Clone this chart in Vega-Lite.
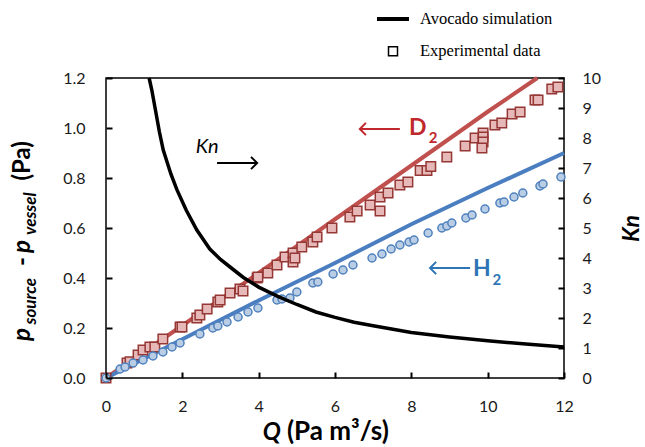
{
  "$schema": "https://vega.github.io/schema/vega-lite/v6.json",
  "width": 458,
  "height": 300,
  "autosize": {"type": "none"},
  "padding": {"left": 106, "top": 78, "right": 81, "bottom": 69},
  "datasets": {
    "sim": [
      {"s": "D2", "q": 0, "p": 0}, {"s": "D2", "q": 2, "p": 0.21}, {"s": "D2", "q": 4, "p": 0.42}, {"s": "D2", "q": 6, "p": 0.635}, {"s": "D2", "q": 8, "p": 0.85}, {"s": "D2", "q": 10, "p": 1.065}, {"s": "D2", "q": 11.3, "p": 1.2},
      {"s": "H2", "q": 0, "p": 0}, {"s": "H2", "q": 2, "p": 0.155}, {"s": "H2", "q": 4, "p": 0.31}, {"s": "H2", "q": 6, "p": 0.46}, {"s": "H2", "q": 8, "p": 0.615}, {"s": "H2", "q": 10, "p": 0.76}, {"s": "H2", "q": 12, "p": 0.9}
    ],
    "d2": [
      {"q": 0, "p": 0}, {"q": 0.55, "p": 0.06}, {"q": 0.63, "p": 0.065}, {"q": 0.84, "p": 0.092}, {"q": 0.97, "p": 0.112}, {"q": 1.15, "p": 0.124}, {"q": 1.28, "p": 0.124}, {"q": 1.49, "p": 0.156}, {"q": 1.94, "p": 0.204}, {"q": 1.99, "p": 0.204}, {"q": 2.38, "p": 0.24}, {"q": 2.46, "p": 0.252}, {"q": 2.65, "p": 0.276}, {"q": 2.93, "p": 0.304}, {"q": 2.99, "p": 0.312}, {"q": 3.25, "p": 0.34}, {"q": 3.51, "p": 0.356}, {"q": 3.59, "p": 0.348}, {"q": 3.96, "p": 0.4}, {"q": 3.98, "p": 0.404}, {"q": 4.24, "p": 0.42}, {"q": 4.48, "p": 0.452}, {"q": 4.69, "p": 0.484}, {"q": 4.9, "p": 0.5}, {"q": 4.9, "p": 0.464}, {"q": 4.95, "p": 0.48}, {"q": 5.13, "p": 0.524}, {"q": 5.42, "p": 0.544}, {"q": 5.53, "p": 0.564}, {"q": 5.92, "p": 0.6}, {"q": 6.39, "p": 0.644}, {"q": 6.58, "p": 0.668}, {"q": 6.92, "p": 0.692}, {"q": 7.18, "p": 0.724}, {"q": 7.18, "p": 0.668}, {"q": 7.39, "p": 0.74}, {"q": 7.7, "p": 0.772}, {"q": 7.91, "p": 0.784}, {"q": 8.23, "p": 0.83}, {"q": 8.41, "p": 0.83}, {"q": 8.51, "p": 0.846}, {"q": 8.93, "p": 0.884}, {"q": 9.41, "p": 0.928}, {"q": 9.67, "p": 0.96}, {"q": 9.88, "p": 0.98}, {"q": 9.88, "p": 0.964}, {"q": 9.88, "p": 0.944}, {"q": 9.85, "p": 0.92}, {"q": 10.19, "p": 1.012}, {"q": 10.37, "p": 1.02}, {"q": 10.64, "p": 1.056}, {"q": 10.85, "p": 1.064}, {"q": 11.24, "p": 1.112}, {"q": 11.32, "p": 1.112}, {"q": 11.68, "p": 1.156}, {"q": 11.84, "p": 1.164}
    ],
    "h2": [
      {"q": 0, "p": 0}, {"q": 0.37, "p": 0.036}, {"q": 0.5, "p": 0.044}, {"q": 0.71, "p": 0.06}, {"q": 0.97, "p": 0.072}, {"q": 1.23, "p": 0.088}, {"q": 1.49, "p": 0.104}, {"q": 1.73, "p": 0.124}, {"q": 1.94, "p": 0.14}, {"q": 2.46, "p": 0.176}, {"q": 2.8, "p": 0.2}, {"q": 2.93, "p": 0.208}, {"q": 3.17, "p": 0.224}, {"q": 3.46, "p": 0.244}, {"q": 3.72, "p": 0.264}, {"q": 3.98, "p": 0.28}, {"q": 4.48, "p": 0.312}, {"q": 4.61, "p": 0.316}, {"q": 4.82, "p": 0.32}, {"q": 5.0, "p": 0.344}, {"q": 5.42, "p": 0.38}, {"q": 5.55, "p": 0.384}, {"q": 5.95, "p": 0.416}, {"q": 6.21, "p": 0.432}, {"q": 6.47, "p": 0.452}, {"q": 6.97, "p": 0.48}, {"q": 7.23, "p": 0.496}, {"q": 7.47, "p": 0.516}, {"q": 7.7, "p": 0.532}, {"q": 7.94, "p": 0.544}, {"q": 8.07, "p": 0.552}, {"q": 8.44, "p": 0.58}, {"q": 8.8, "p": 0.6}, {"q": 8.93, "p": 0.608}, {"q": 9.06, "p": 0.62}, {"q": 9.43, "p": 0.64}, {"q": 9.59, "p": 0.652}, {"q": 9.93, "p": 0.676}, {"q": 10.32, "p": 0.7}, {"q": 10.43, "p": 0.704}, {"q": 10.69, "p": 0.724}, {"q": 10.92, "p": 0.74}, {"q": 11.37, "p": 0.768}, {"q": 11.45, "p": 0.776}, {"q": 11.92, "p": 0.804}
    ],
    "kn": [
      {"q": 1.13, "kn": 10}, {"q": 1.2, "kn": 9.6}, {"q": 1.3, "kn": 8.9}, {"q": 1.4, "kn": 8.2}, {"q": 1.5, "kn": 7.6}, {"q": 1.7, "kn": 6.8}, {"q": 1.86, "kn": 6.27}, {"q": 2.1, "kn": 5.6}, {"q": 2.38, "kn": 4.93}, {"q": 2.72, "kn": 4.3}, {"q": 3.0, "kn": 3.95}, {"q": 3.3, "kn": 3.65}, {"q": 3.6, "kn": 3.35}, {"q": 4.0, "kn": 3.03}, {"q": 4.5, "kn": 2.72}, {"q": 5.0, "kn": 2.45}, {"q": 5.5, "kn": 2.2}, {"q": 6.0, "kn": 2.02}, {"q": 6.5, "kn": 1.86}, {"q": 7.0, "kn": 1.74}, {"q": 8.0, "kn": 1.52}, {"q": 9.0, "kn": 1.37}, {"q": 10.0, "kn": 1.24}, {"q": 11.0, "kn": 1.13}, {"q": 12.0, "kn": 1.03}
    ],
    "leg": [{"k": "Avocado simulation"}, {"k": "Experimental data"}],
    "one": [{}]
  },
  "layer": [
    {
      "layer": [
        {
          "data": {"name": "sim"},
          "mark": {"type": "line", "strokeWidth": 4},
          "encoding": {
            "x": {"field": "q", "type": "quantitative", "scale": {"domain": [0, 12], "nice": false}, "axis": {"title": null, "values": [0, 2, 4, 6, 8, 10, 12], "format": "d", "offset": -6, "domain": false, "ticks": true, "tickSize": 6, "tickWidth": 2, "tickColor": "#000000", "tickOpacity": 1, "labelPadding": 20, "labelFlush": false, "zindex": 1}},
            "y": {"field": "p", "type": "quantitative", "scale": {"domain": [0, 1.2], "nice": false}, "axis": {"title": null, "orient": "left", "values": [0, 0.2, 0.4, 0.6, 0.8, 1.0, 1.2], "format": ".1f", "offset": -6, "domain": false, "ticks": true, "tickSize": 6, "tickWidth": 2, "tickColor": "#000000", "tickOpacity": 1, "labelPadding": 21, "labelFlush": false, "zindex": 1}},
            "color": {"field": "s", "type": "nominal", "scale": {"domain": ["D2", "H2"], "range": ["#C0504D", "#4A7EC0"]}, "legend": null}
          }
        },
        {
          "data": {"name": "d2"},
          "mark": {"type": "point", "shape": "square", "size": 90, "filled": true, "fill": "#E6B9B8", "stroke": "#953735", "strokeWidth": 1.5, "opacity": 1},
          "encoding": {"x": {"field": "q", "type": "quantitative"}, "y": {"field": "p", "type": "quantitative"}}
        },
        {
          "data": {"name": "h2"},
          "mark": {"type": "point", "shape": "circle", "size": 64, "filled": true, "fill": "#B9CDE5", "stroke": "#4F81BD", "strokeWidth": 1.5, "opacity": 1},
          "encoding": {"x": {"field": "q", "type": "quantitative"}, "y": {"field": "p", "type": "quantitative"}}
        },
        {
          "data": {"name": "leg"},
          "mark": {"type": "point", "filled": false, "color": "black", "opacity": 0},
          "encoding": {
            "shape": {"field": "k", "type": "nominal", "scale": {"domain": ["Avocado simulation", "Experimental data"], "range": ["stroke", "square"]}, "legend": {"title": null, "orient": "none", "legendX": 269, "legendY": -77, "labelOffset": 9, "rowPadding": 15, "symbolOpacity": 1}},
            "size": {"field": "k", "type": "nominal", "scale": {"type": "ordinal", "domain": ["Avocado simulation", "Experimental data"], "range": [1024, 81]}, "legend": {"title": null, "orient": "none", "legendX": 269, "legendY": -77, "labelOffset": 9, "rowPadding": 15, "symbolOpacity": 1}},
            "strokeWidth": {"field": "k", "type": "nominal", "scale": {"type": "ordinal", "domain": ["Avocado simulation", "Experimental data"], "range": [4, 1.5]}, "legend": {"title": null, "orient": "none", "legendX": 269, "legendY": -77, "labelOffset": 9, "rowPadding": 15, "symbolOpacity": 1}}
          }
        },
        {"data": {"name": "one"}, "mark": {"type": "text", "text": "Kn", "font": "Lato", "fontSize": 20, "fontStyle": "italic", "align": "center", "baseline": "middle", "color": "black"}, "encoding": {"x": {"datum": 2.65}, "y": {"datum": 0.924}}},
        {"data": {"name": "one"}, "mark": {"type": "rule", "color": "black", "strokeWidth": 2}, "encoding": {"x": {"datum": 2.91}, "x2": {"datum": 3.94}, "y": {"datum": 0.86}}},
        {"data": {"name": "one"}, "mark": {"type": "point", "shape": "M -1 -1 L 0 0 L -1 1", "filled": false, "size": 150, "strokeWidth": 2, "color": "black", "opacity": 1}, "encoding": {"x": {"datum": 3.96}, "y": {"datum": 0.86}}},
        {"data": {"name": "one"}, "mark": {"type": "rule", "color": "#C0282D", "strokeWidth": 2}, "encoding": {"x": {"datum": 6.67}, "x2": {"datum": 7.7}, "y": {"datum": 0.996}}},
        {"data": {"name": "one"}, "mark": {"type": "point", "shape": "M 1 -1 L 0 0 L 1 1", "filled": false, "size": 150, "strokeWidth": 2, "color": "#C0282D", "opacity": 1}, "encoding": {"x": {"datum": 6.65}, "y": {"datum": 0.996}}},
        {"data": {"name": "one"}, "mark": {"type": "text", "text": "D", "font": "Lato", "fontSize": 23, "fontWeight": "bold", "align": "center", "baseline": "middle", "color": "#C0282D"}, "encoding": {"x": {"datum": 8.17}, "y": {"datum": 1.0}}},
        {"data": {"name": "one"}, "mark": {"type": "text", "text": "2", "font": "Lato", "fontSize": 15, "fontWeight": "bold", "align": "center", "baseline": "middle", "color": "#C0282D"}, "encoding": {"x": {"datum": 8.57}, "y": {"datum": 0.96}}},
        {"data": {"name": "one"}, "mark": {"type": "rule", "color": "#2E75B6", "strokeWidth": 2}, "encoding": {"x": {"datum": 8.51}, "x2": {"datum": 9.54}, "y": {"datum": 0.44}}},
        {"data": {"name": "one"}, "mark": {"type": "point", "shape": "M 1 -1 L 0 0 L 1 1", "filled": false, "size": 150, "strokeWidth": 2, "color": "#2E75B6", "opacity": 1}, "encoding": {"x": {"datum": 8.49}, "y": {"datum": 0.44}}},
        {"data": {"name": "one"}, "mark": {"type": "text", "text": "H", "font": "Lato", "fontSize": 23, "fontWeight": "bold", "align": "center", "baseline": "middle", "color": "#2E75B6"}, "encoding": {"x": {"datum": 9.85}, "y": {"datum": 0.436}}},
        {"data": {"name": "one"}, "mark": {"type": "text", "text": "2", "font": "Lato", "fontSize": 15, "fontWeight": "bold", "align": "center", "baseline": "middle", "color": "#2E75B6"}, "encoding": {"x": {"datum": 10.24}, "y": {"datum": 0.392}}},
        {"data": {"name": "one"}, "mark": {"type": "text", "text": "p", "font": "Lato", "fontSize": 24, "fontWeight": "bold", "fontStyle": "italic", "angle": 270, "align": "left", "baseline": "alphabetic", "color": "black"}, "encoding": {"x": {"datum": -1.99}, "y": {"datum": 0.148}}},
        {"data": {"name": "one"}, "mark": {"type": "text", "text": "source", "font": "Lato", "fontSize": 17, "fontWeight": "bold", "fontStyle": "italic", "angle": 270, "align": "left", "baseline": "alphabetic", "color": "black"}, "encoding": {"x": {"datum": -1.834}, "y": {"datum": 0.214}}},
        {"data": {"name": "one"}, "mark": {"type": "text", "text": "-", "font": "Lato", "fontSize": 24, "fontWeight": "bold", "angle": 270, "align": "left", "baseline": "alphabetic", "color": "black"}, "encoding": {"x": {"datum": -1.99}, "y": {"datum": 0.448}}},
        {"data": {"name": "one"}, "mark": {"type": "text", "text": "p", "font": "Lato", "fontSize": 24, "fontWeight": "bold", "fontStyle": "italic", "angle": 270, "align": "left", "baseline": "alphabetic", "color": "black"}, "encoding": {"x": {"datum": -1.99}, "y": {"datum": 0.5}}},
        {"data": {"name": "one"}, "mark": {"type": "text", "text": "vessel", "font": "Lato", "fontSize": 17, "fontWeight": "bold", "fontStyle": "italic", "angle": 270, "align": "left", "baseline": "alphabetic", "color": "black"}, "encoding": {"x": {"datum": -1.834}, "y": {"datum": 0.572}}},
        {"data": {"name": "one"}, "mark": {"type": "text", "text": "(Pa)", "font": "Lato", "fontSize": 24, "fontWeight": "bold", "angle": 270, "align": "left", "baseline": "alphabetic", "color": "black"}, "encoding": {"x": {"datum": -1.99}, "y": {"datum": 0.79}}},
        {"data": {"name": "one"}, "mark": {"type": "text", "text": "Q", "font": "Lato", "fontSize": 24, "fontWeight": "bold", "fontStyle": "italic", "align": "left", "baseline": "alphabetic", "color": "black"}, "encoding": {"x": {"datum": 4.11}, "y": {"datum": -0.248}}},
        {"data": {"name": "one"}, "mark": {"type": "text", "text": "(Pa m³/s)", "font": "Lato", "fontSize": 26, "fontWeight": "bold", "align": "left", "baseline": "alphabetic", "color": "black"}, "encoding": {"x": {"datum": 4.74}, "y": {"datum": -0.248}}}
      ]
    },
    {
      "data": {"name": "kn"},
      "mark": {"type": "line", "color": "black", "strokeWidth": 3.5},
      "encoding": {
        "x": {"field": "q", "type": "quantitative"},
        "y": {"field": "kn", "type": "quantitative", "scale": {"domain": [0, 10], "nice": false}, "axis": {"orient": "right", "title": "Kn", "titleAngle": 270, "titleFontStyle": "italic", "titleFontWeight": "bold", "titleFontSize": 23, "titleFont": "Lato", "titleColor": "black", "titlePadding": 43, "values": [0, 1, 2, 3, 4, 5, 6, 7, 8, 9, 10], "offset": -6, "domain": false, "ticks": true, "tickSize": 6, "tickWidth": 2, "tickColor": "#000000", "tickOpacity": 1, "labelPadding": 18, "labelFlush": false, "zindex": 1}}
      }
    }
  ],
  "resolve": {"scale": {"y": "independent"}},
  "config": {
    "view": {"stroke": "black", "strokeWidth": 1.5},
    "axis": {"labelFont": "Lato", "labelFontSize": 16, "labelColor": "#1a1a1a", "grid": false},
    "legend": {"labelFont": "Liberation Serif", "labelFontSize": 16.5, "labelColor": "black"}
  }
}
